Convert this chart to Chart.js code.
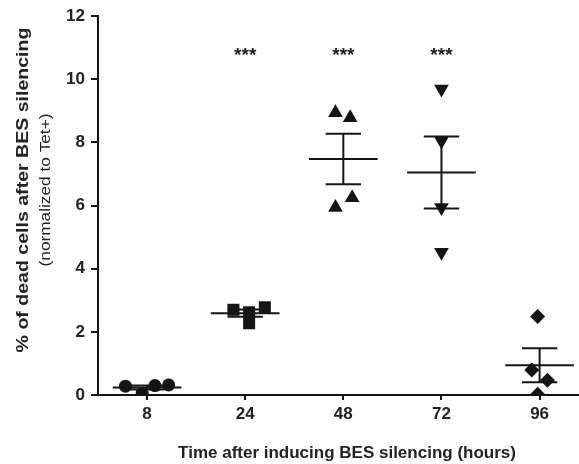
<!DOCTYPE html>
<html><head><meta charset="utf-8">
<script src="https://cdn.jsdelivr.net/npm/chart.js@4/dist/chart.umd.min.js"></script>
<style>html,body{margin:0;padding:0;background:#fff;overflow:hidden}#wrap{width:579px;height:464px}</style>
</head><body><div id="wrap"><canvas id="c" width="579" height="464"></canvas></div>
<script>
const categories = ['8', '24', '48', '72', '96'];
const vals8  = [0.28, 0.05, 0.30, 0.32];
const vals24 = [2.70, 2.62, 2.78, 2.27];
const vals48 = [8.94, 8.78, 6.25, 5.94];
const vals72 = [9.69, 8.05, 5.94, 4.52];
const vals96 = [2.49, 0.79, 0.47, 0.02];
const significance = ['', '***', '***', '***', ''];
const yTicks = [0, 2, 4, 6, 8, 10, 12];

const groups = [vals8, vals24, vals48, vals72, vals96];
const jitter = [[-0.22,-0.05,0.08,0.22],[-0.12,0.04,0.2,0.04],[-0.08,0.07,0.09,-0.08],[0,0,0,0],[-0.02,-0.08,0.08,-0.02]];
const shapes = ['circle','rect','triangle','triangle','rectRot'];
const rotations = [0,0,0,180,0];
const radii = [6.5,8.5,8.5,8.5,7.5];
const INK = '#151515';
const FONT = '"Liberation Sans", Arial, sans-serif';

function stats(a){const n=a.length;const m=a.reduce((s,v)=>s+v,0)/n;const sd=Math.sqrt(a.reduce((s,v)=>s+(v-m)*(v-m),0)/(n-1));return {m, sem: sd/Math.sqrt(n)};}

const datasets = groups.map((g,i)=>({
  type:'scatter',
  data: g.map((v,k)=>({x:i+jitter[i][k], y:v})),
  pointStyle: shapes[i], rotation: rotations[i], pointRadius: radii[i],
  backgroundColor: INK, borderColor: INK, borderWidth: 0, pointHoverRadius: radii[i]
}));

const overlay = {
  id:'overlay',
  afterDatasetsDraw(chart){
    const ctx=chart.ctx, x=chart.scales.x, y=chart.scales.y;
    ctx.save();
    ctx.strokeStyle=INK; ctx.lineWidth=2;
    ctx.beginPath(); ctx.moveTo(x.right-1, y.getPixelForValue(0)); ctx.lineTo(chart.width, y.getPixelForValue(0)); ctx.stroke();
    groups.forEach((g,i)=>{
      const s=stats(g);
      const ln=(x1,y1,x2,y2)=>{ctx.beginPath();ctx.moveTo(x.getPixelForValue(x1),y.getPixelForValue(y1));ctx.lineTo(x.getPixelForValue(x2),y.getPixelForValue(y2));ctx.stroke();};
      ln(i-0.35,s.m,i+0.35,s.m);
      ln(i,s.m-s.sem,i,s.m+s.sem);
      ln(i-0.18,s.m+s.sem,i+0.18,s.m+s.sem);
      ln(i-0.18,s.m-s.sem,i+0.18,s.m-s.sem);
    });
    ctx.fillStyle='#222'; ctx.textAlign='center'; ctx.textBaseline='middle';
    ctx.font='bold 19px '+FONT;
    significance.forEach((t,i)=>{ if(t) ctx.fillText(t, x.getPixelForValue(i), y.getPixelForValue(10.75)); });
    ctx.font='bold 17px '+FONT;
    ctx.fillText('Time after inducing BES silencing (hours)', 347, 453);
    ctx.translate(23, 190); ctx.rotate(-Math.PI/2); ctx.scale(1.15,1);
    ctx.font='bold 17px '+FONT;
    ctx.fillText('% of dead cells after BES silencing', 0, 0);
    ctx.font='15px '+FONT;
    ctx.fillText('(normalized to Tet+)', 0, 23);
    ctx.restore();
  }
};

new Chart(document.getElementById('c'), {
  type:'scatter',
  data:{datasets},
  options:{
    responsive:false, animation:false, events:[],
    layout:{padding:{top:15,right:0,left:0,bottom:0}},
    plugins:{legend:{display:false}, tooltip:{enabled:false}},
    scales:{
      x:{type:'linear', min:-0.5, max:4.315,
        afterBuildTicks(s){s.ticks=categories.map((c,i)=>({value:i}));},
        afterFit(s){s.height=69;},
        grid:{display:true, drawOnChartArea:false, drawTicks:true, tickLength:5, color:INK, lineWidth:2},
        border:{color:INK, width:2},
        ticks:{color:'#222', font:{family:FONT, size:17, weight:'bold'}, padding:4,
          callback:(v)=>categories[v] ?? ''}
      },
      y:{min:0, max:12,
        afterBuildTicks(s){s.ticks=yTicks.map(v=>({value:v}));},
        afterFit(s){s.width=98;},
        grid:{display:true, drawOnChartArea:false, drawTicks:true, tickLength:7, color:INK, lineWidth:2},
        border:{color:INK, width:2},
        ticks:{color:'#222', font:{family:FONT, size:17, weight:'bold'}, padding:6}
      }
    }
  },
  plugins:[overlay]
});
</script></body></html>
